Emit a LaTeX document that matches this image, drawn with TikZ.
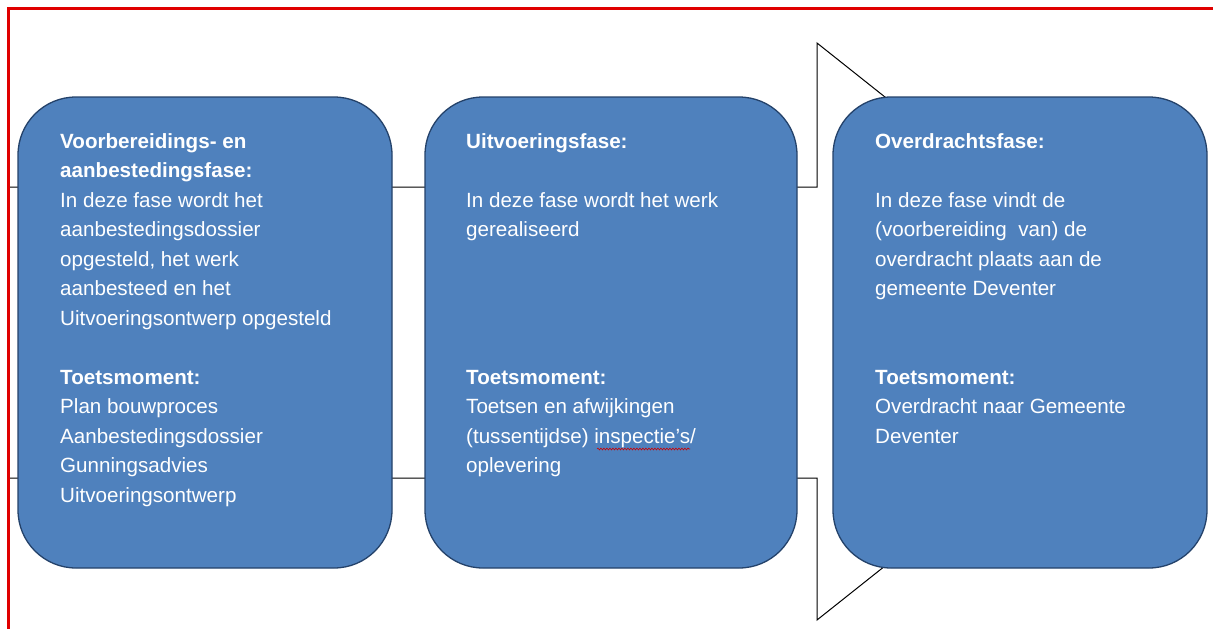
\documentclass[tikz,border=0pt]{standalone}
\usepackage{fontspec}
\setmainfont{Liberation Sans}
\usetikzlibrary{decorations.pathmorphing}
\definecolor{boxblue}{HTML}{4F81BD}
\definecolor{boxline}{HTML}{24426A}
\definecolor{frame}{HTML}{E00000}
\tikzset{
  phase/.style={draw=boxline, line width=1.3pt, fill=boxblue, rounded corners=58pt},
  phasetext/.style={anchor=north west, align=left, text=white, inner sep=0pt,
    font=\fontsize{20.6}{29.5}\selectfont},
}
\begin{document}
\begin{tikzpicture}[x=1pt,y=-1pt]
\useasboundingbox (0,0) rectangle (1213,629);
% background arrow
\draw[black, line width=1pt, fill=white]
  (8,187) -- (817,187) -- (817,43) -- (1180,331.5) -- (817,620) -- (817,478) -- (8,478) -- cycle;
% boxes
\draw[phase] (18,97) rectangle (392,568);
\draw[phase] (425,97) rectangle (797,568);
\draw[phase] (833,97) rectangle (1207,568);
\node (b1) at (205,332) {};
\node (b2) at (611,332) {};
\node (b3) at (1020,332) {};
% texts
\node[phasetext] (t1) at (60,133) {\textbf{Voorbereidings- en}\\
\textbf{aanbestedingsfase:}\\
In deze fase wordt het\\
aanbestedingsdossier\\
opgesteld, het werk\\
aanbesteed en het\\
Uitvoeringsontwerp opgesteld\\
~\\
\textbf{Toetsmoment:}\\
Plan bouwproces\\
Aanbestedingsdossier\\
Gunningsadvies\\
Uitvoeringsontwerp};
\node[phasetext] (t2) at (466,133) {\textbf{Uitvoeringsfase:}\\
~\\
In deze fase wordt het werk\\
gerealiseerd\\
~\\
~\\
~\\
~\\
\textbf{Toetsmoment:}\\
Toetsen en afwijkingen\\
(tussentijdse) inspectie’s/\\
oplevering};
\node[phasetext] (t3) at (875,133) {\textbf{Overdrachtsfase:}\\
~\\
In deze fase vindt de\\
(voorbereiding\ \ van) de\\
overdracht plaats aan de\\
gemeente Deventer\\
~\\
~\\
\textbf{Toetsmoment:}\\
Overdracht naar Gemeente\\
Deventer};
% spell-check squiggle
\coordinate (sq1) at (597,449);
\coordinate (sq2) at (690,449);
\draw[red!80!black, line width=0.6pt, decorate, decoration={snake, amplitude=0.9pt, segment length=3pt}] (sq1) -- (sq2);
% red frame
\draw[frame, line width=3pt] (8,629) -- (8,8) -- (1213,8);
\end{tikzpicture}
\end{document}
